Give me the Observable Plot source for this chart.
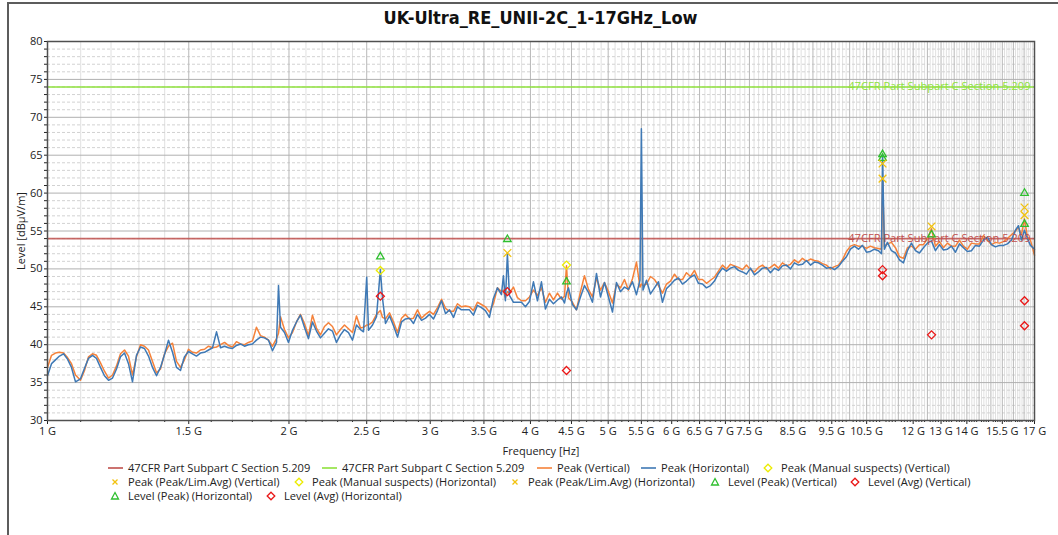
<!DOCTYPE html>
<html><head><meta charset="utf-8">
<script src="https://cdn.jsdelivr.net/npm/d3@7"></script>
<script src="https://cdn.jsdelivr.net/npm/@observablehq/plot@0.6"></script>
<style>
body{margin:0;background:#fff;}
#page{position:relative;width:1058px;height:535px;overflow:hidden;background:#fff;}
#border{position:absolute;left:7px;top:2px;width:1060px;height:540px;border-top:2px solid #5c5c5c;border-left:2px solid #5c5c5c;pointer-events:none;}
#title{height:36px;line-height:35px;padding-left:47px;width:987px;text-align:center;font-family:"DejaVu Sans Condensed","DejaVu Sans",sans-serif;font-weight:bold;font-size:18px;color:#111;}
#legend{position:relative;height:75px;font-family:"Open Sans",sans-serif;font-size:11.1px;color:#222;}
.item{position:absolute;white-space:nowrap;line-height:14px;}
.sw{position:absolute;}
</style></head><body>
<div id="page"><div id="border"></div><div id="title">UK-Ultra_RE_UNII-2C_1-17GHz_Low</div><div id="chart"></div><div id="legend"></div></div>
<script>
// ---------- data ----------
const freqGHz = [
1.000,1.0116,1.0232,1.0350,1.0470,1.0591,1.0713,1.0837,1.0994,1.1121,
1.1249,1.1379,1.1510,1.1643,1.1777,1.1914,1.2052,1.2191,1.2331,1.2474,
1.2617,1.2763,1.2910,1.3060,1.3210,1.3363,1.3518,1.3674,1.3832,1.3992,
1.4153,1.4317,1.4482,1.4648,1.4816,1.4987,1.5160,1.5335,1.5512,1.5695,
1.5876,1.6060,1.6245,1.6433,1.6623,1.6810,1.7005,1.7201,1.7400,1.7601,
1.7804,1.8010,1.8218,1.8429,1.8641,1.8859,1.9076,1.9297,1.9408,1.9520,
1.9745,1.9971,2.0202,2.0436,2.0671,2.0909,2.1151,2.1395,2.1642,2.1892,
2.2145,2.2401,2.2660,2.2921,2.3187,2.3455,2.3727,2.4001,2.4278,2.4559,
2.4771,2.500,2.5130,2.5421,2.5714,2.600,2.6161,2.6387,2.6692,2.7000,
2.7312,2.7627,2.7946,2.8269,2.8595,2.8925,2.9260,2.9597,2.9940,3.0286,
3.0635,3.0989,3.1347,3.1709,3.2075,3.2441,3.2811,3.3190,3.3573,3.3961,
3.4353,3.4750,3.5151,3.5557,3.5968,3.6383,3.6803,3.7015,3.7228,3.744,
3.7658,3.8093,3.8535,3.8980,3.9430,3.9885,4.0346,4.0812,4.1283,4.1760,
4.2242,4.2730,4.3228,4.3727,4.4105,4.436,4.4614,4.5129,4.5650,4.6178,
4.6711,4.7250,4.7797,4.8349,4.8907,4.9472,5.0043,5.0621,5.1205,5.1797,
5.2395,5.3000,5.3613,5.4232,5.4779,5.500,5.5253,5.5811,5.6456,5.7107,
5.7767,5.8434,5.9111,5.9794,6.0484,6.1183,6.1889,6.2604,6.3324,6.4055,
6.4795,6.5543,6.6300,6.7066,6.7840,6.8623,6.9412,7.0213,7.1024,7.1844,
7.2674,7.3513,7.4363,7.5222,7.6091,7.6969,7.7858,7.8757,7.9665,8.0585,
8.1516,8.2457,8.3409,8.4373,8.5347,8.6333,8.7330,8.8338,8.9358,9.0391,
9.1435,9.2491,9.3559,9.4639,9.5731,9.6836,9.7955,9.9086,10.023,10.139,
10.256,10.374,10.494,10.615,10.738,10.862,10.956,10.990,11.050,11.146,
11.275,11.405,11.537,11.670,11.805,11.941,12.079,12.218,12.359,12.502,
12.646,12.793,12.940,13.090,13.241,13.394,13.549,13.705,13.863,14.023,
14.185,14.349,14.515,14.682,14.852,15.023,15.197,15.372,15.550,15.729,
15.911,16.094,16.234,16.374,16.516,16.659,16.803,17.000];

const peakHorizontal = [
35.9,37.5,38.0,38.5,38.8,38.1,37.0,35.1,35.5,36.9,
38.2,38.6,38.2,37.0,35.9,35.3,35.6,36.8,38.4,38.9,
37.5,35.1,38.6,39.7,39.5,38.5,37.0,35.9,37.0,38.7,
40.6,39.0,37.0,36.6,38.4,39.1,38.8,38.5,38.9,39.0,
39.3,39.6,41.7,39.6,39.8,39.6,39.5,39.9,40.1,39.8,
40.0,40.1,40.6,41.0,40.9,40.6,39.2,40.3,47.8,42.3,
41.6,40.3,41.9,43.0,43.9,42.3,40.8,43.0,41.8,40.9,
41.5,42.1,41.8,40.3,41.3,42.0,41.6,40.6,42.6,42.0,
41.7,48.9,41.9,42.6,43.7,49.9,46.1,42.8,43.8,42.5,
41.0,43.0,43.4,43.5,42.8,44.0,43.2,43.5,44.0,43.4,
44.5,45.8,44.1,44.6,43.6,45.0,44.6,44.6,44.6,43.9,
45.2,44.9,44.5,43.6,46.1,47.5,46.6,49.1,45.8,52.0,
46.5,45.6,45.6,45.6,45.0,45.7,48.3,45.8,48.3,44.7,
46.0,45.4,45.9,46.3,45.5,46.8,47.5,45.3,44.6,46.3,
47.8,46.9,45.6,49.4,46.3,48.2,46.3,44.3,48.2,47.0,
47.6,47.3,48.3,46.6,48.5,68.5,47.2,48.5,46.7,47.5,
48.3,45.6,47.4,47.9,48.5,48.8,48.0,48.4,48.9,49.2,
48.1,48.0,47.5,47.8,48.4,49.4,50.1,49.7,50.1,50.3,
49.8,49.6,49.3,50.1,49.2,49.6,50.1,50.2,49.5,50.1,
49.8,50.4,50.5,50.0,50.8,50.5,50.6,51.1,50.5,50.9,
50.8,50.5,50.1,50.2,49.9,50.3,51.0,51.6,52.6,53.0,
52.6,53.1,52.2,52.3,52.6,52.4,52.0,65.0,52.6,53.5,
52.4,52.1,51.2,50.8,52.4,53.4,52.4,52.1,52.8,53.4,
53.7,52.4,53.2,52.5,52.6,53.0,52.2,53.3,52.8,52.3,
52.4,53.1,53.0,53.8,54.2,53.2,52.9,53.1,53.1,53.3,
53.8,55.1,55.7,53.8,55.1,54.0,53.1,52.6];

const peakVertical = [
37.0,38.6,38.9,39.0,38.9,38.3,37.5,36.0,35.3,36.6,
38.4,38.8,38.6,37.6,36.5,35.6,36.0,37.2,38.8,39.3,
38.5,36.0,38.4,40.0,39.8,39.3,37.8,36.3,36.8,38.8,
39.8,40.2,37.8,37.0,38.0,39.4,39.0,38.9,39.3,39.4,
39.8,39.6,39.7,40.0,40.3,39.9,39.7,40.4,40.1,40.0,
40.3,40.5,42.3,41.2,41.0,40.6,39.8,40.8,41.5,43.7,
42.0,40.9,41.6,43.0,44.0,42.8,41.2,43.9,42.2,41.3,
42.4,42.9,42.4,41.3,42.0,42.6,42.1,41.6,43.8,42.2,
42.3,42.6,42.6,43.0,44.0,44.5,43.6,43.4,44.2,43.0,
41.6,43.5,44.0,43.4,43.5,44.6,43.5,44.0,44.4,44.0,
44.9,46.0,44.8,44.4,44.4,45.4,45.0,45.1,45.0,44.5,
45.6,45.3,45.0,44.3,45.4,47.5,47.0,47.2,46.2,47.0,
46.8,47.6,46.2,45.8,45.8,46.3,47.2,46.5,47.5,45.6,
46.8,45.9,46.8,46.0,46.4,50.4,46.2,45.6,44.6,47.0,
49.1,47.3,46.3,48.8,47.2,48.2,47.0,45.5,48.0,47.5,
48.6,47.2,48.7,50.9,47.6,48.0,47.8,48.0,49.0,48.6,
47.8,46.8,48.0,48.4,49.3,48.6,48.6,49.5,49.0,49.8,
48.6,48.6,48.1,48.5,48.9,49.7,50.5,50.0,50.6,50.4,
50.2,49.9,50.5,49.9,49.6,50.2,50.5,50.0,50.2,50.6,
50.1,50.8,50.4,50.6,51.2,50.8,51.4,51.0,51.3,51.1,
51.0,50.7,50.5,50.0,50.3,50.5,51.2,52.3,53.0,53.2,
53.0,53.0,52.7,53.0,52.8,52.7,52.6,62.0,53.0,53.3,
53.5,52.8,51.6,51.4,52.8,53.0,52.6,53.2,53.2,54.0,
55.3,53.0,53.6,52.8,53.4,53.0,53.0,53.8,53.0,52.6,
53.4,53.3,53.3,54.4,53.8,53.2,53.5,53.4,53.6,54.0,
54.5,55.0,55.5,54.5,56.6,54.2,53.8,51.8];

// limits
const limitAvgLevel = 54;
const limitPeakLevel = 74;
const limitName = "47CFR Part Subpart C Section 5.209";

// final / suspect markers: [frequency GHz, level dBµV/m]
const manualSuspectsVertical = [[4.436, 50.5]];
const manualSuspectsHorizontal = [[2.600, 49.8]];
const peakLimAvgVertical = [[10.99, 61.9], [12.65, 55.6], [16.52, 58.1]];
const peakLimAvgHorizontal = [[3.744, 52.1], [10.99, 63.9], [16.52, 57.1]];
const levelPeakVertical = [[4.436, 48.3], [10.99, 64.6], [12.65, 54.5], [16.52, 55.9]];
const levelPeakHorizontal = [[2.600, 51.6], [3.744, 53.9], [10.99, 65.1], [16.52, 60.0]];
const levelAvgVertical = [[4.436, 36.6], [10.99, 49.1], [12.65, 41.3], [16.52, 42.5]];
const levelAvgHorizontal = [[2.600, 46.4], [3.744, 47.0], [10.99, 49.9], [16.52, 45.8]];

// tick labels
const xTickValues = [1, 1.5, 2, 2.5, 3, 3.5, 4, 4.5, 5, 5.5, 6, 6.5, 7, 7.5, 8.5, 9.5, 10.5, 12, 13, 14, 15.5, 17];
const yTickValues = [30, 35, 40, 45, 50, 55, 60, 65, 70, 75, 80];

const legendLabels = [
  limitName, limitName, "Peak (Vertical)", "Peak (Horizontal)", "Peak (Manual suspects) (Vertical)",
  "Peak (Peak/Lim.Avg) (Vertical)", "Peak (Manual suspects) (Horizontal)", "Peak (Peak/Lim.Avg) (Horizontal)",
  "Level (Peak) (Vertical)", "Level (Avg) (Vertical)", "Level (Peak) (Horizontal)", "Level (Avg) (Horizontal)"];

// ---------- styles ----------
const C = {
  limitRed: "#c0504d", limitGreen: "#8fe23c", orange: "#f5823a", blue: "#3f79b5",
  yellowX: "#f2c20e", yellowD: "#ecec00", green: "#2fbf2f", red: "#ea1616"
};
const legendKinds = [
  ["line", C.limitRed], ["line", C.limitGreen], ["line", C.orange], ["line", C.blue], ["diamond", C.yellowD],
  ["times", C.yellowX], ["diamond", C.yellowD], ["times", C.yellowX],
  ["triangle", C.green], ["diamond", C.red], ["triangle", C.green], ["diamond", C.red]];
// legend layout: [text left px, row]
const legendSlots = [[128,0],[342,0],[557,0],[661,0],[781,0],[128,1],[312,1],[528,1],[728,1],[868,1],[128,2],[284,2]];

// ---------- build ----------
const n = Math.min(freqGHz.length, peakVertical.length, peakHorizontal.length);
const traceV = d3.range(n).map(i => ({f: freqGHz[i], v: peakVertical[i]}));
const traceH = d3.range(n).map(i => ({f: freqGHz[i], v: peakHorizontal[i]}));

const grid01 = d3.range(11, 170).map(i => i / 10).filter(d => Math.abs(d * 2 - Math.round(d * 2)) > 1e-6);
const grid05 = d3.range(3, 34).map(i => i / 2);
const yMinor = d3.range(31, 80).filter(d => d % 5 !== 0);

const pt = (arr, symbol, color) => Plot.dot(arr, {x: d => d[0], y: d => d[1], symbol, stroke: color, r: 3.6, strokeWidth: 1.3});

const chart = Plot.plot({
  width: 1058, height: 424,
  marginLeft: 47, marginRight: 24, marginTop: 5, marginBottom: 40,
  style: {fontFamily: "'Open Sans', sans-serif", fontSize: "11px", overflow: "visible", background: "transparent", color: "#222"},
  x: {type: "log", domain: [1, 17]},
  y: {domain: [30, 80]},
  marks: [
    Plot.ruleX(grid01, {stroke: "#e0e0e0"}),
    Plot.ruleY(yMinor, {stroke: "#d2d2d2", strokeDasharray: "3,2"}),
    Plot.ruleX(grid05, {stroke: "#b8b8b8"}),
    Plot.ruleY(yTickValues, {stroke: "#b0b0b0"}),
    Plot.ruleY([limitPeakLevel], {stroke: C.limitGreen, strokeWidth: 1.6}),
    Plot.ruleY([limitAvgLevel], {stroke: C.limitRed, strokeWidth: 1.6, strokeOpacity: 0.85}),
    Plot.text([limitPeakLevel], {y: d => d, frameAnchor: "right", text: () => limitName, textAnchor: "end", lineAnchor: "bottom", dx: -4, dy: 3, fill: C.limitGreen, fontSize: 11.1}),
    Plot.line(traceV, {x: "f", y: "v", stroke: C.orange, strokeWidth: 1.5}),
    Plot.line(traceH, {x: "f", y: "v", stroke: C.blue, strokeWidth: 1.5}),
    Plot.text([limitAvgLevel], {y: d => d, frameAnchor: "right", text: () => limitName, textAnchor: "end", lineAnchor: "bottom", dx: -4, dy: 3, fill: C.limitRed, fontSize: 11.1}),
    pt(levelAvgVertical, "diamond2", C.red),
    pt(levelAvgHorizontal, "diamond2", C.red),
    pt(levelPeakVertical, "triangle2", C.green),
    pt(levelPeakHorizontal, "triangle2", C.green),
    pt(peakLimAvgVertical, "times", C.yellowX),
    pt(peakLimAvgHorizontal, "times", C.yellowX),
    pt(manualSuspectsVertical, "diamond2", C.yellowD),
    pt(manualSuspectsHorizontal, "diamond2", C.yellowD),
    Plot.axisY(yMinor, {tickSize: 3, tickFormat: () => "", label: null}),
    Plot.axisY(yTickValues, {tickSize: 3, tickPadding: 2, label: "Level [dBµV/m]", labelAnchor: "center", labelArrow: "none", labelOffset: 30}),
    Plot.axisX(grid01, {tickSize: 2, tickFormat: () => "", label: null}),
    Plot.axisX(xTickValues, {tickSize: 4, tickPadding: 3, tickFormat: d => `${d} G`, label: "Frequency [Hz]", labelAnchor: "center", labelArrow: "none", labelOffset: 34}),
    Plot.frame({stroke: "#505050", strokeWidth: 1.5})
  ]
});
document.getElementById("chart").appendChild(chart);

// ---------- legend ----------
const legend = document.getElementById("legend");
const rowCenters = [8, 22, 36];
legendLabels.forEach((label, i) => {
  const [left, row] = legendSlots[i];
  const [kind, color] = legendKinds[i];
  const cy = rowCenters[row];
  const t = document.createElement("div");
  t.className = "item";
  t.style.left = left + "px";
  t.style.top = (cy - 7) + "px";
  t.textContent = label;
  legend.appendChild(t);
  let svg;
  if (kind === "line") {
    svg = `<svg class="sw" style="left:${left - 20}px;top:${cy - 2}px" width="15" height="4"><line x1="0" y1="2" x2="15" y2="2" stroke="${color}" stroke-width="1.6"/></svg>`;
  } else if (kind === "times") {
    svg = `<svg class="sw" style="left:${left - 17}px;top:${cy - 4}px" width="8" height="8"><path d="M1.5,1.5L6.5,6.5M6.5,1.5L1.5,6.5" stroke="${color}" stroke-width="1.3" fill="none"/></svg>`;
  } else if (kind === "diamond") {
    svg = `<svg class="sw" style="left:${left - 18}px;top:${cy - 5}px" width="10" height="10"><path d="M5,1.2L8.8,5L5,8.8L1.2,5Z" stroke="${color}" stroke-width="1.3" fill="none"/></svg>`;
  } else {
    svg = `<svg class="sw" style="left:${left - 18}px;top:${cy - 5}px" width="10" height="10"><path d="M5,1.5L8.5,8L1.5,8Z" stroke="${color}" stroke-width="1.3" fill="none"/></svg>`;
  }
  legend.insertAdjacentHTML("beforeend", svg);
});
</script>
</body></html>
